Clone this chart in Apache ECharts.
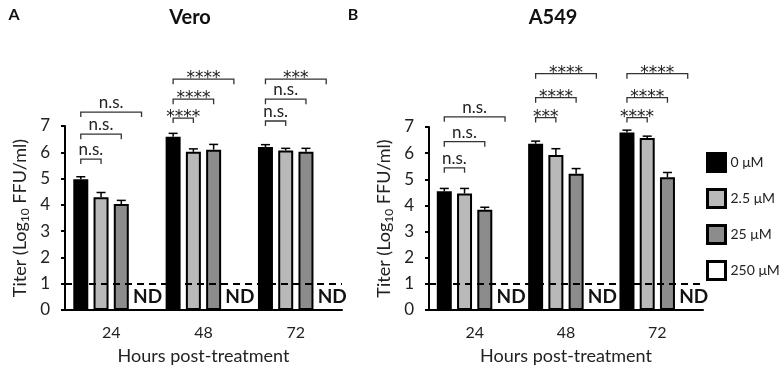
<!DOCTYPE html>
<html lang="en">
<head>
<meta charset="UTF-8">
<title>Titer</title>
<script src="https://cdn.jsdelivr.net/npm/echarts@6/dist/echarts.min.js"></script>
</head>
<body style="margin:0">
<div id="main" style="width:781px;height:370px;"></div>
<script>
const hours = ['24', '48', '72'];
const doses = ['0 μM', '2.5 μM', '25 μM', '250 μM'];
const doseColors = ['#000000', '#b9b9b9', '#8c8c8c', '#ffffff'];

// Vero: mean titer (log10 FFU/ml), 250 μM not detected
const vero0 = [4.97, 6.59, 6.20];
const vero2_5 = [4.29, 6.02, 6.07];
const vero25 = [4.03, 6.10, 6.02];
const vero250 = [0, 0, 0];
const veroErr0 = [0.10, 0.13, 0.09];
const veroErr2_5 = [0.18, 0.11, 0.08];
const veroErr25 = [0.14, 0.20, 0.13];

// A549
const a549_0 = [4.54, 6.36, 6.79];
const a549_2_5 = [4.46, 5.93, 6.58];
const a549_25 = [3.83, 5.21, 5.08];
const a549_250 = [0, 0, 0];
const a549Err0 = [0.11, 0.10, 0.09];
const a549Err2_5 = [0.19, 0.24, 0.07];
const a549Err25 = [0.10, 0.20, 0.18];

// brackets: [hour index, from dose, to dose, height, label]
const veroSig = [
    [0, 0, 1, 5.74, 'n.s.'], [0, 0, 2, 6.69, 'n.s.'], [0, 0, 3, 7.53, 'n.s.'],
    [1, 0, 1, 7.30, '****'], [1, 0, 2, 8.02, '****'], [1, 0, 3, 8.78, '****'],
    [2, 0, 1, 7.19, 'n.s.'], [2, 0, 2, 8.02, 'n.s.'], [2, 0, 3, 8.78, '***']
];
const a549Sig = [
    [0, 0, 1, 5.44, 'n.s.'], [0, 0, 2, 6.44, 'n.s.'], [0, 0, 3, 7.39, 'n.s.'],
    [1, 0, 1, 7.36, '***'], [1, 0, 2, 8.12, '****'], [1, 0, 3, 9.04, '****'],
    [2, 0, 1, 7.36, '****'], [2, 0, 2, 8.12, '****'], [2, 0, 3, 9.04, '****']
];

const FONT = 'Lato';
const BAR_W = 15;
const BAR_GAP = 0.35;
const SLOT = BAR_W * (1 + BAR_GAP);

var myChart = echarts.init(document.getElementById('main'));

function barSeries(vals, d, g) {
    const s = {
        type: 'bar',
        name: doses[d],
        xAxisIndex: g,
        yAxisIndex: g,
        barWidth: BAR_W,
        barGap: (BAR_GAP * 100) + '%',
        data: vals,
        itemStyle: {
            color: doseColors[d],
            borderColor: '#000',
            borderWidth: d === 0 ? 0 : 2
        }
    };
    if (d === 3) {
        // not detected + detection limit line
        s.z = 3;
        s.label = {
            show: true, position: 'top', distance: 3, offset: [6, 0],
            formatter: 'ND', fontFamily: FONT, fontWeight: 'bold', fontSize: 19, color: '#111'
        };
        s.markLine = {
            silent: true,
            symbol: ['none', 'none'],
            label: { show: false },
            lineStyle: { color: '#000', width: 2, type: [7, 5] },
            data: [{ yAxis: 1 }]
        };
    }
    return s;
}

function errorSeries(means, errs, g) {
    const data = [];
    means.forEach(function (m, d) {
        m.forEach(function (v, h) {
            data.push([h, d, v, v + errs[d][h]]);
        });
    });
    return {
        type: 'custom',
        xAxisIndex: g,
        yAxisIndex: g,
        z: 4,
        encode: { x: 0, y: 3 },
        renderItem: function (params, api) {
            const x = api.coord([api.value(0), 0])[0] + (api.value(1) - 1.5) * SLOT;
            const top = api.coord([api.value(0), api.value(2)])[1];
            const hi = api.coord([api.value(0), api.value(3)])[1];
            return {
                type: 'group',
                children: [
                    { type: 'line', shape: { x1: x, y1: top, x2: x, y2: hi }, style: { stroke: '#000', lineWidth: 1.5 } },
                    { type: 'line', shape: { x1: x - 4.5, y1: hi, x2: x + 4.5, y2: hi }, style: { stroke: '#000', lineWidth: 1.5 } }
                ]
            };
        },
        data: data
    };
}

function bracketSeries(sig, g) {
    return {
        type: 'custom',
        xAxisIndex: g,
        yAxisIndex: g,
        z: 5,
        clip: false,
        encode: { x: 0, y: 3 },
        renderItem: function (params, api) {
            const row = sig[params.dataIndex];
            const c = api.coord([api.value(0), api.value(3)]);
            const x1 = c[0] + (api.value(1) - 1.5) * SLOT;
            const x2 = c[0] + (api.value(2) - 1.5) * SLOT;
            const y = c[1];
            const stars = row[4].indexOf('*') >= 0;
            return {
                type: 'group',
                children: [
                    {
                        type: 'polyline',
                        shape: { points: [[x1, y + 5], [x1, y], [x2, y], [x2, y + 5]] },
                        style: { stroke: '#333', lineWidth: 1.3, fill: null }
                    },
                    {
                        type: 'text',
                        style: {
                            text: row[4], x: (x1 + x2) / 2, y: stars ? y + 8 : y - 1,
                            align: 'center', verticalAlign: 'bottom',
                            fontFamily: stars ? 'DejaVu Sans' : FONT,
                            fontSize: 17, fill: '#222'
                        }
                    }
                ]
            };
        },
        data: sig.map(function (r) { return r.slice(0, 4); })
    };
}

function xAxis(g) {
    return {
        type: 'category',
        gridIndex: g,
        data: hours,
        name: 'Hours post-treatment',
        nameLocation: 'middle',
        nameGap: 37,
        nameTextStyle: { fontFamily: FONT, fontSize: 18, color: '#222' },
        axisLine: { lineStyle: { color: '#000', width: 2 } },
        axisTick: { alignWithLabel: true, length: 5, lineStyle: { color: '#000', width: 2 } },
        axisLabel: { fontFamily: FONT, fontSize: 16, color: '#222', margin: 15 }
    };
}

function yAxis(g) {
    return {
        type: 'value',
        gridIndex: g,
        min: 0,
        max: 7,
        interval: 1,
        name: '{t|Titer (Log}{s|10}{t| FFU/ml)}',
        nameLocation: 'middle',
        nameGap: 34,
        nameTextStyle: {
            rich: {
                t: { fontFamily: FONT, fontSize: 18, color: '#222', lineHeight: 22 },
                s: { fontFamily: FONT, fontSize: 12, color: '#222', lineHeight: 12, verticalAlign: 'bottom' }
            }
        },
        splitLine: { show: false },
        axisLine: { show: true, lineStyle: { color: '#000', width: 2 } },
        axisTick: { show: true, length: 4, lineStyle: { color: '#000', width: 2 } },
        axisLabel: { fontFamily: FONT, fontSize: 17, color: '#222', margin: 15 }
    };
}

const veroMeans = [vero0, vero2_5, vero25];
const veroErrs = [veroErr0, veroErr2_5, veroErr25];
const a549Means = [a549_0, a549_2_5, a549_25];
const a549Errs = [a549Err0, a549Err2_5, a549Err25];

option = {
    animation: false,
    graphic: [
        { type: 'text', x: 14, y: 15, style: { text: 'A', align: 'center', verticalAlign: 'middle', fontFamily: FONT, fontWeight: 'bold', fontSize: 16, fill: '#111' } },
        { type: 'text', x: 190, y: 18, style: { text: 'Vero', align: 'center', verticalAlign: 'middle', fontFamily: FONT, fontWeight: 'bold', fontSize: 20, fill: '#111' } },
        { type: 'text', x: 353, y: 15, style: { text: 'B', align: 'center', verticalAlign: 'middle', fontFamily: FONT, fontWeight: 'bold', fontSize: 16, fill: '#111' } },
        { type: 'text', x: 553, y: 18, style: { text: 'A549', align: 'center', verticalAlign: 'middle', fontFamily: FONT, fontWeight: 'bold', fontSize: 20, fill: '#111' } }
    ],
    legend: {
        data: doses,
        orient: 'vertical',
        left: 701,
        top: 147,
        icon: 'rect',
        itemWidth: 18,
        itemHeight: 18,
        itemGap: 15,
        itemStyle: { borderColor: '#000', borderWidth: 3 },
        textStyle: { fontFamily: FONT, fontSize: 14, color: '#222' }
    },
    grid: [
        { left: 65, top: 126, width: 277, height: 184 },
        { left: 429, top: 127, width: 274, height: 183 }
    ],
    xAxis: [xAxis(0), xAxis(1)],
    yAxis: [yAxis(0), yAxis(1)],
    series: [
        barSeries(vero0, 0, 0), barSeries(vero2_5, 1, 0), barSeries(vero25, 2, 0), barSeries(vero250, 3, 0),
        barSeries(a549_0, 0, 1), barSeries(a549_2_5, 1, 1), barSeries(a549_25, 2, 1), barSeries(a549_250, 3, 1),
        errorSeries(veroMeans, veroErrs, 0), errorSeries(a549Means, a549Errs, 1),
        bracketSeries(veroSig, 0), bracketSeries(a549Sig, 1)
    ]
};
myChart.setOption(option);
</script>
</body>
</html>
